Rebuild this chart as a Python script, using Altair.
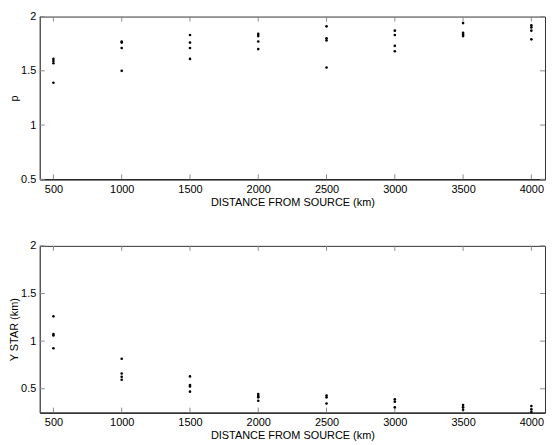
import altair as alt
import pandas as pd

distances = [500, 1000, 1500, 2000, 2500, 3000, 3500, 4000]
p_values = [
    [1.61, 1.59, 1.57, 1.39],
    [1.77, 1.76, 1.71, 1.50],
    [1.83, 1.76, 1.71, 1.61],
    [1.84, 1.82, 1.77, 1.70],
    [1.91, 1.80, 1.78, 1.53],
    [1.87, 1.83, 1.73, 1.68],
    [1.94, 1.85, 1.835, 1.82],
    [1.92, 1.90, 1.87, 1.79],
]
ystar_values = [
    [1.26, 1.075, 1.06, 0.925],
    [0.815, 0.66, 0.625, 0.595],
    [0.63, 0.54, 0.525, 0.47],
    [0.445, 0.425, 0.41, 0.375],
    [0.43, 0.41, 0.345],
    [0.39, 0.365, 0.305],
    [0.33, 0.305, 0.28],
    [0.32, 0.285, 0.258],
]
x_ticks = [500, 1000, 1500, 2000, 2500, 3000, 3500, 4000]
p_ticks = [0.5, 1, 1.5, 2]
ystar_ticks = [0.5, 1, 1.5, 2]

X_DOMAIN = [400, 4100]
W = 509
FONT = "Liberation Sans"
TICK_COLOR = "#8a8a8a"
TL = 5


def long_df(vals):
    rows = []
    for d, vs in zip(distances, vals):
        for v in vs:
            rows.append({"dist": d, "value": v})
    return pd.DataFrame(rows)


def panel(vals, ytitle, ydomain, yticks, h):
    xs = alt.Scale(domain=X_DOMAIN, nice=False, zero=False)
    ys = alt.Scale(domain=ydomain, nice=False, zero=False)
    pts = alt.Chart(long_df(vals)).mark_circle(size=7, color="black", opacity=1).encode(
        x=alt.X("dist:Q", scale=xs, axis=alt.Axis(
            values=x_ticks, title="DISTANCE FROM SOURCE (km)", ticks=False, grid=False,
            format="d", labelPadding=4, titlePadding=2, domainColor="black")),
        y=alt.Y("value:Q", scale=ys, axis=alt.Axis(
            values=yticks, title=ytitle, ticks=False, grid=False, format="~g",
            labelPadding=4, titlePadding=1, domainColor="#555")),
    )
    xt = pd.DataFrame({"dist": x_ticks})
    yt = pd.DataFrame({"value": yticks})
    bot = alt.Chart(xt).mark_rule(color=TICK_COLOR).encode(
        x=alt.X("dist:Q", scale=xs), y=alt.value(h - TL), y2=alt.value(h))
    top = alt.Chart(xt).mark_rule(color=TICK_COLOR).encode(
        x=alt.X("dist:Q", scale=xs), y=alt.value(0), y2=alt.value(TL))
    left = alt.Chart(yt).mark_rule(color=TICK_COLOR).encode(
        y=alt.Y("value:Q", scale=ys), x=alt.value(0), x2=alt.value(TL))
    right = alt.Chart(yt).mark_rule(color=TICK_COLOR).encode(
        y=alt.Y("value:Q", scale=ys), x=alt.value(W - TL), x2=alt.value(W))
    return alt.layer(bot, top, left, right, pts).properties(width=W, height=h)


upper = panel(p_values, "p", [0.5, 2], p_ticks, 164)
lower = panel(ystar_values, "Y STAR (km)", [0.25, 2], ystar_ticks, 168)

chart = alt.vconcat(upper, lower, spacing=31).properties(
    padding={"left": 0, "top": 0, "right": 0, "bottom": 0}
).configure_view(stroke="#333", strokeWidth=1).configure_axis(
    labelFont=FONT, titleFont=FONT, labelFontSize=11, titleFontSize=11,
    titleFontWeight="normal", labelColor="black", titleColor="black",
)

chart.save("out.html", embed_options={"renderer": "svg", "actions": False})
